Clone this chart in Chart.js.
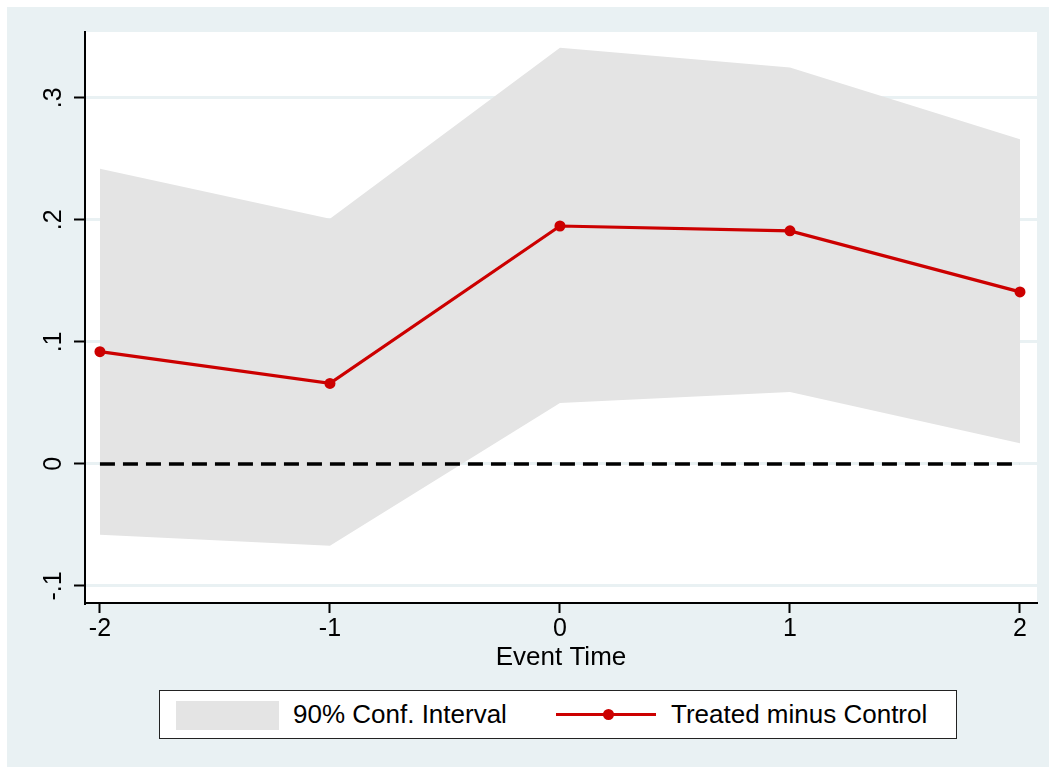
<!DOCTYPE html>
<html>
<head>
<meta charset="utf-8">
<script src="https://cdn.jsdelivr.net/npm/chart.js@4"></script>
<style>
  html, body { margin: 0; padding: 0; background: #fff; }
  #frame { position: absolute; left: 7px; top: 7px; width: 1042px; height: 760px; background: #E9F1F3; }
  #chart { position: absolute; left: 0; top: 0; }
  #legend {
    position: absolute; left: 159px; top: 690px; width: 796px; height: 47px;
    border: 1.5px solid #222; background: #fff;
    font-family: 'Liberation Sans', Arial, sans-serif; font-size: 26px; color: #000;
  }
  #legend .swatch { position: absolute; left: 16px; top: 10px; width: 103px; height: 29px; background: #E4E4E4; }
  #legend .label { position: absolute; top: 8px; line-height: 30px; white-space: nowrap; }
  #legend .line { position: absolute; left: 396px; top: 22px; width: 100px; height: 3px; background: #CC0000; }
  #legend .dot { position: absolute; left: 443px; top: 18px; width: 11px; height: 11px; border-radius: 50%; background: #CC0000; }
</style>
</head>
<body>
<div id="frame"></div>
<canvas id="chart" width="1049" height="770"></canvas>
<div id="legend">
  <div class="swatch"></div>
  <div class="label" style="left:133px">90% Conf. Interval</div>
  <div class="line"></div>
  <div class="dot"></div>
  <div class="label" style="left:511px">Treated minus Control</div>
</div>
<script>
// --- data ---
const eventTimes = [-2, -1, 0, 1, 2];
const estimate = [0.092, 0.066, 0.195, 0.191, 0.141];
const ciUpper = [0.242, 0.201, 0.341, 0.325, 0.266];
const ciLower = [-0.058, -0.067, 0.050, 0.059, 0.017];
const refValue = 0;

const xTicks = [-2, -1, 0, 1, 2];
const xTickLabels = ['-2', '-1', '0', '1', '2'];
const yTicks = [-0.1, 0, 0.1, 0.2, 0.3];
const yTickLabels = ['-.1', '0', '.1', '.2', '.3'];

const RED = '#CC0000';
const BAND = '#E4E4E4';
const GRID = '#E9F1F3';
const FONT = "'Liberation Sans', Arial, sans-serif";

const toPoints = (ys) => eventTimes.map((x, i) => ({ x: x, y: ys[i] }));

// fill the plot region white (outer frame stays bluish gray)
const plotBackground = {
    id: 'plotBackground',
    beforeDraw(chart) {
        const { ctx, chartArea: a } = chart;
        ctx.save();
        ctx.fillStyle = '#fff';
        ctx.fillRect(a.left, a.top, a.right - a.left, a.bottom - a.top);
        ctx.restore();
    }
};

const ctx = document.getElementById('chart').getContext('2d');
new Chart(ctx, {
    type: 'line',
    data: {
        datasets: [{
            label: 'Treated minus Control',
            data: toPoints(estimate),
            borderColor: RED,
            backgroundColor: RED,
            borderWidth: 3.2,
            pointRadius: 5.5,
            pointBackgroundColor: RED,
            pointBorderWidth: 0,
            tension: 0,
            fill: false,
            order: 0
        }, {
            label: 'zero',
            data: [{ x: eventTimes[0], y: refValue }, { x: eventTimes[eventTimes.length - 1], y: refValue }],
            borderColor: '#000',
            borderWidth: 3.5,
            borderDash: [15, 8],
            pointRadius: 0,
            fill: false,
            order: 1
        }, {
            label: '90% Conf. Interval',
            data: toPoints(ciUpper),
            borderWidth: 0,
            borderColor: BAND,
            backgroundColor: BAND,
            pointRadius: 0,
            tension: 0,
            fill: '+1',
            order: 2
        }, {
            label: 'lower',
            data: toPoints(ciLower),
            borderWidth: 0,
            borderColor: BAND,
            pointRadius: 0,
            tension: 0,
            fill: false,
            order: 3
        }]
    },
    options: {
        responsive: false,
        animation: false,
        layout: { padding: { left: 0, top: 32, right: 12, bottom: 97 } },
        plugins: {
            legend: { display: false },
            tooltip: { enabled: false }
        },
        scales: {
            x: {
                type: 'linear',
                min: -2.065,
                max: 2.074,
                afterBuildTicks: (s) => { s.ticks = xTicks.map(v => ({ value: v })); },
                afterFit: (s) => { s.height = 70; },
                ticks: {
                    callback: (v) => xTickLabels[xTicks.indexOf(v)],
                    color: '#000',
                    font: { family: FONT, size: 25 },
                    padding: 1,
                    maxRotation: 0
                },
                grid: { drawOnChartArea: false, tickLength: 10, tickColor: '#000', tickWidth: 2 },
                border: { display: true, color: '#000', width: 2 },
                title: {
                    display: true,
                    text: 'Event Time',
                    color: '#000',
                    font: { family: FONT, size: 26 },
                    padding: 0
                }
            },
            y: {
                type: 'linear',
                min: -0.114,
                max: 0.354,
                afterBuildTicks: (s) => { s.ticks = yTicks.map(v => ({ value: v })); },
                afterFit: (s) => { s.width = 85; },
                ticks: {
                    callback: (v) => yTickLabels[yTicks.indexOf(v)],
                    color: '#000',
                    font: { family: FONT, size: 25 },
                    minRotation: 90,
                    maxRotation: 90,
                    crossAlign: 'center',
                    padding: 5
                },
                grid: { color: GRID, lineWidth: 3, tickLength: 11, tickColor: '#000', tickWidth: 2 },
                border: { display: true, color: '#000', width: 2 }
            }
        }
    },
    plugins: [plotBackground]
});
</script>
</body>
</html>
